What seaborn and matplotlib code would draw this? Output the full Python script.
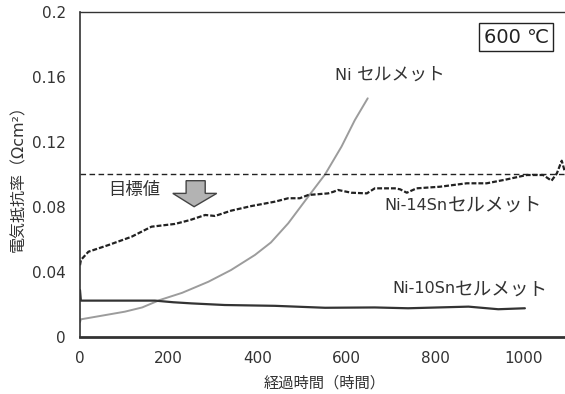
import matplotlib
matplotlib.use("Agg")
import matplotlib.pyplot as plt
from matplotlib.patches import Polygon
import seaborn as sns
import pandas as pd

# ---- data ----
t_ni = [0, 2, 40, 101, 140, 180, 230, 289, 340, 394, 430, 469, 514, 552, 589, 619, 648]
v_ni = [0.009, 0.0107, 0.0125, 0.0154, 0.018, 0.0226, 0.027, 0.0338, 0.041, 0.0503, 0.058, 0.0698, 0.0862, 0.0999, 0.117, 0.1333, 0.1467]

t_14 = [0, 2, 19, 64, 116, 161, 214, 248, 282, 304, 341, 386, 439, 469, 495, 514, 559, 571, 581,
        611, 646, 664, 683, 709, 721, 736, 758, 811, 871, 916, 961, 1006, 1043, 1062, 1074, 1085, 1092]
v_14 = [0.044, 0.0472, 0.0523, 0.0564, 0.0615, 0.0677, 0.0694, 0.0718, 0.0749, 0.0743, 0.0776, 0.0804,
        0.0831, 0.0852, 0.0852, 0.0872, 0.0882, 0.0892, 0.0903, 0.0886, 0.0882, 0.0913, 0.0913, 0.0913,
        0.0907, 0.0886, 0.0913, 0.0923, 0.0944, 0.0944, 0.0968, 0.0995, 0.0995, 0.096, 0.1005, 0.1083, 0.1015]

t_10 = [0, 2, 80, 169, 210, 251, 326, 439, 552, 664, 739, 875, 942, 1002]
v_10 = [0.0287, 0.0222, 0.0222, 0.0222, 0.0212, 0.0205, 0.0195, 0.019, 0.0178, 0.018, 0.0175, 0.0185, 0.0169, 0.0175]

target = 0.1
x_ticks = [0, 200, 400, 600, 800, 1000]
y_ticks = [0, 0.04, 0.08, 0.12, 0.16, 0.2]
y_ticklabels = ["0", "0.04", "0.08", "0.12", "0.16", "0.2"]

# series labels: (latin part, katakana part)
lbl_ni = ("Ni ", "セルメット")
lbl_14 = ("Ni-14Sn", "セルメット")
lbl_10 = ("Ni-10Sn", "セルメット")

df_ni = pd.DataFrame({"t": t_ni, "v": v_ni})
df_14 = pd.DataFrame({"t": t_14, "v": v_14})
df_10 = pd.DataFrame({"t": t_10, "v": v_10})

sns.set_theme(style="white")
plt.rcParams["font.family"] = ["DejaVu Sans", "Noto Sans CJK JP"]
plt.rcParams["axes.unicode_minus"] = False

fig = plt.figure(figsize=(5.65, 3.94), dpi=100)
ax = fig.add_axes([80 / 565, 1 - 336.7 / 394, 488.4 / 565, 325 / 394])

txt = "#333333"
sns.lineplot(data=df_ni, x="t", y="v", ax=ax, color="#9c9c9c", lw=1.4, estimator=None, sort=False)
sns.lineplot(data=df_10, x="t", y="v", ax=ax, color="#333333", lw=1.6, estimator=None, sort=False)
sns.lineplot(data=df_14, x="t", y="v", ax=ax, color="#222222", lw=1.6, estimator=None, sort=False,
             linestyle=(0, (2.2, 0.9)))
ax.axhline(target, color="#222222", lw=1.0, linestyle=(0, (4, 2.5)))

ax.set_xlim(0, 1100)
ax.set_ylim(0, 0.2)
ax.set_xticks(x_ticks)
ax.set_xticklabels([str(x) for x in x_ticks])
ax.set_yticks(y_ticks)
ax.set_yticklabels(y_ticklabels)
ax.tick_params(axis="x", direction="in", length=7, width=0.8, color="#555555", labelsize=11, labelcolor=txt, pad=10)
ax.tick_params(axis="y", direction="out", length=6, width=0.8, color="#555555", labelsize=11, labelcolor=txt, pad=4)
ax.set_xlabel("経過時間（時間）", fontsize=11, color=txt, labelpad=7)
ax.set_ylabel("電気抵抗率（Ωcm²）", fontsize=11.5, color=txt, labelpad=4)

for s in ["top", "left", "bottom"]:
    ax.spines[s].set_color("#333333")
ax.spines["right"].set_visible(False)
ax.spines["top"].set_linewidth(1.0)
ax.spines["left"].set_linewidth(1.2)
ax.spines["bottom"].set_linewidth(2.0)


def series_label(x, y, parts, ksize):
    lat, kana = parts
    t1 = ax.text(x, y, lat, fontsize=11.5, color=txt, ha="left", va="center")
    ax.annotate(kana, xy=(1.0, 0.5), xycoords=t1, fontsize=ksize, color=txt, ha="left", va="center")


series_label(574, 0.161, lbl_ni, 12.8)
series_label(686, 0.081, lbl_14, 13.6)
series_label(703, 0.0294, lbl_10, 13.4)
ax.text(122, 0.0905, "目標値", fontsize=12.5, color=txt, ha="center", va="center")
ax.text(982, 0.1844, "600 ℃", fontsize=14, color="#222222", ha="center", va="center",
        bbox=dict(boxstyle="square,pad=0.22", fc="white", ec="#222222", lw=1.0))

arrow = Polygon([(239, 0.096), (282, 0.096), (282, 0.0882), (308, 0.0882), (257, 0.080),
                 (209, 0.0882), (239, 0.0882)], closed=True, fc="#b3b3b3", ec="#444444", lw=1.0)
ax.add_patch(arrow)

fig.savefig("out.png", dpi=100)
